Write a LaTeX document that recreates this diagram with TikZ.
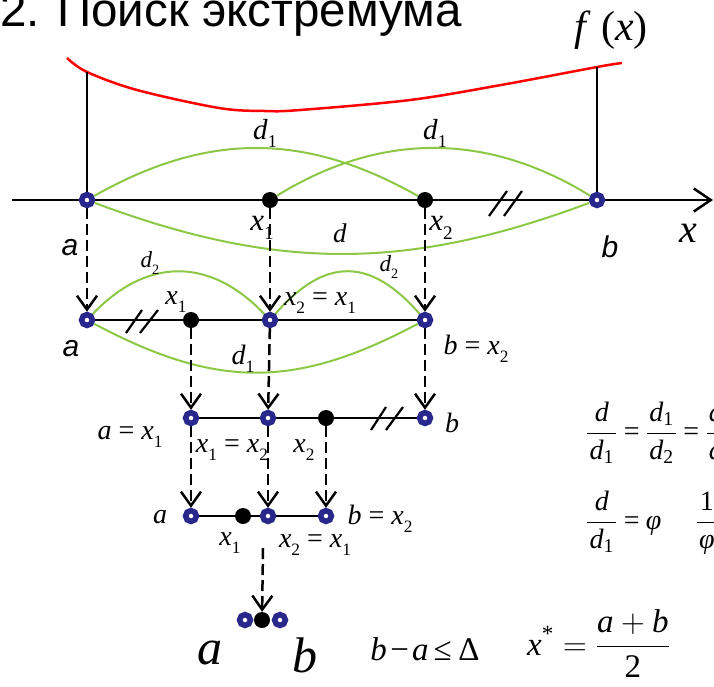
\RequirePackage{fix-cm}
\documentclass[tikz,border=0pt]{standalone}
\usepackage{amsmath}
\usepackage{graphicx}
\usepackage{fontspec}
\newfontfamily\sansf{Liberation Sans}
\newfontfamily\tnr{Liberation Serif}
\usetikzlibrary{arrows.meta,backgrounds}
\definecolor{ptblue}{RGB}{40,40,140}
\definecolor{arcgreen}{RGB}{140,200,70}
\newcommand\fs[1]{\fontsize{#1}{#1}\selectfont}
\newcommand\sbs[1]{\raisebox{-0.28em}{\scalebox{0.62}{#1}}}
\newcommand\mi[1]{\text{\itshape #1}}
\newcommand\mr[1]{\text{#1}}
\newcommand\teq{\mathrel{\text{=}}}
\newcommand\pf[2]{\frac{\mkern1.5mu#1\mkern1.5mu}{\mkern1.5mu#2\mkern1.5mu}}
\begin{document}
\begin{tikzpicture}[x=1pt,y=-1pt,
  bpt/.style={circle, draw=ptblue, fill=white, line width=5.6pt, minimum size=10.8pt, inner sep=0pt},
  kpt/.style={circle, fill=black, minimum size=16pt, inner sep=0pt},
  darr/.style={line width=2.5pt, dash pattern=on 11pt off 5pt, -{Straight Barb[length=14pt,width=20pt]}},
  axisln/.style={line width=2.5pt, -{Straight Barb[length=17pt,width=23pt]}},
  rowln/.style={line width=2pt},
  hashln/.style={line width=2.2pt},
  arcln/.style={arcgreen, line width=2pt},
  lab/.style={inner sep=0pt, font=\tnr\fs{#1}},
  slab/.style={inner sep=0pt, font=\sansf\itshape\fs{30}}
]
\useasboundingbox (0,0) rectangle (714,686);

% title
\node[anchor=base west, inner sep=0pt, font=\sansf\fs{47.5}] (title) at (0,26) {2. Поиск экстремума};

% points
\node[bpt] (r1a) at (87,200) {};
\node[kpt] (r1x1) at (270,200) {};
\node[kpt] (r1x2) at (425,200) {};
\node[bpt] (r1b) at (597,200) {};
\node[bpt] (r2a) at (87,320) {};
\node[kpt] (r2x1) at (191,320) {};
\node[bpt] (r2x2) at (270,320) {};
\node[bpt] (r2b) at (425,320) {};
\node[bpt] (r3a) at (191,418) {};
\node[bpt] (r3x1) at (268,418) {};
\node[kpt] (r3x2) at (326,418) {};
\node[bpt] (r3b) at (425,418) {};
\node[bpt] (r4a) at (191,516) {};
\node[kpt] (r4x1) at (243,516) {};
\node[bpt] (r4x2) at (268,516) {};
\node[bpt] (r4b) at (326,516) {};
\node[bpt] (r5a) at (245,620) {};
\node[bpt] (r5b) at (280,620) {};
\node[kpt] (r5x) at (262,620) {};

\coordinate (fa) at (87,72);
\coordinate (fb) at (597,67);
\coordinate (axs) at (12,200);
\coordinate (axe) at (713,200);
\coordinate (r5top) at (263,548);

\begin{scope}[on background layer]
  % f(x)
  \draw[red, line width=2.5pt] plot[smooth, tension=0.55] coordinates
    {(67,58) (87,72) (137,90) (219,108) (265,111) (300,110) (410,100) (501,85) (597,67) (622,63)};
  \draw[line width=2pt] (fa) -- (r1a);
  \draw[line width=2pt] (fb) -- (r1b);
  % axis and row lines
  \draw[axisln] (axs) -- (r1a) -- (r1x1) -- (r1x2) -- (r1b) -- (axe);
  \draw[rowln] (r2a) -- (r2x1) -- (r2x2) -- (r2b);
  \draw[rowln] (r3a) -- (r3x1) -- (r3x2) -- (r3b);
  \draw[rowln] (r4a) -- (r4x1) -- (r4x2) -- (r4b);
  % hash marks
  \draw[hashln] (489,216) -- (507,191) (504,216) -- (522,191);
  \draw[hashln] (126,333) -- (142,310) (140,333) -- (158,310);
  \draw[hashln] (371,430) -- (386,407) (386,430) -- (403,407);
  % green arcs
  \draw[arcln] (r1a) .. controls +(120,-68) and +(-120,-68) .. (r1x2);
  \draw[arcln] (r1x1) .. controls +(110,-68) and +(-110,-68) .. (r1b);
  \draw[arcln] (r1a) .. controls +(190,71) and +(-190,71) .. (r1b);
  \draw[arcln] (r2a) .. controls +(60,-63) and +(-60,-63) .. (r2x2);
  \draw[arcln] (r2x2) .. controls +(55,-63) and +(-55,-63) .. (r2b);
  \draw[arcln] (r2a) .. controls +(130,69) and +(-130,69) .. (r2b);
  % dashed arrows
  \draw[darr] (r1a) -- (r2a);
  \draw[darr] (r1x1) -- (r2x2);
  \draw[darr] (r1x2) -- (r2b);
  \draw[darr] (r2x1) -- (r3a);
  \draw[darr] (r2x2) -- (r3x1);
  \draw[darr] (r2b) -- (r3b);
  \draw[darr] (r3a) -- (r4a);
  \draw[darr] (r3x1) -- (r4x2);
  \draw[darr] (r3x2) -- (r4b);
  \draw[darr] (r5top) -- (r5x);
\end{scope}

% labels row 1
\node[lab=42] (lfx) at (611,30) {\textit{f}\hspace{0.25em}(\textit{x})};
\node[lab=40] (lx) at (688,233) {\textit{x}};
\node[slab] (la1) at (70,248) {a};
\node[slab] (lb1) at (610,247) {b};
\node[lab=29] (ld1a) at (265,133) {\textit{d}\sbs{1}};
\node[lab=29] (ld1b) at (435,133) {\textit{d}\sbs{1}};
\node[lab=27] (ld) at (340,233) {\textit{d}};
\node[lab=31] (lx1) at (262,228) {\textit{x}\sbs{1}};
\node[lab=31] (lx2) at (441,228) {\textit{x}\sbs{2}};
% row 2
\node[lab=23] (ld2a) at (150,263) {\textit{d}\sbs{2}};
\node[lab=23] (ld2b) at (389,267) {\textit{d}\sbs{2}};
\node[lab=28] (l2x1) at (176,302) {\textit{x}\sbs{1}};
\node[lab=28] (l2x2) at (320,303) {\textit{x}\sbs{2} = \textit{x}\sbs{1}};
\node[slab] (la2) at (71,349) {a};
\node[lab=28] (l2b) at (476,349) {\textit{b} = \textit{x}\sbs{2}};
\node[lab=28] (l2d1) at (243,359) {\textit{d}\sbs{1}};
% row 3
\node[lab=28] (l3a) at (130,437) {\textit{a} = \textit{x}\sbs{1}};
\node[lab=28] (l3x1) at (232,450) {\textit{x}\sbs{1} = \textit{x}\sbs{2}};
\node[lab=28] (l3x2) at (304,450) {\textit{x}\sbs{2}};
\node[lab=28] (l3b) at (452,423) {\textit{b}};
% row 4
\node[lab=28] (l4a) at (160,517) {\textit{a}};
\node[lab=28] (l4b) at (380,519) {\textit{b} = \textit{x}\sbs{2}};
\node[lab=28] (l4x1) at (230,543) {\textit{x}\sbs{1}};
\node[lab=28] (l4x2) at (315,545) {\textit{x}\sbs{2} = \textit{x}\sbs{1}};
% bottom
\node[lab=50] (l5a) at (210,653) {\textit{a}};
\node[lab=50] (l5b) at (305,655) {\textit{b}};
\node[anchor=base, inner sep=0pt, font=\tnr\fs{33}] (cond) at (425,660) {\textit{b}\hspace{0.1em}−\hspace{0.1em}\textit{a}\hspace{0.15em}≤\hspace{0.2em}Δ};
\node[anchor=base west, inner sep=0pt, font=\tnr\fs{33}] (xs) at (527,655) {$\displaystyle \mi{x}^{\mr{*}}=\frac{\mi{a}+\mi{b}}{\mr{2}}$};
% right formulas
\node[anchor=base west, inner sep=0pt, font=\tnr\fs{28}] (frm1) at (586,440) {$\thickmuskip=4mu\displaystyle\pf{\mi{d}}{\mi{d}_{\mr{1}}}\teq\pf{\mi{d}_{\mr{1}}}{\mi{d}_{\mr{2}}}\teq\pf{\mi{d}_{\mr{2}}}{\mi{d}_{\mr{3}}}$};
\node[anchor=base west, inner sep=0pt, font=\tnr\fs{28}] (frm2) at (586,529) {$\thickmuskip=4mu\displaystyle\pf{\mi{d}}{\mi{d}_{\mr{1}}}\teq\mi{φ}\mkern22mu\pf{\mr{1}}{\mi{φ}}$};
\end{tikzpicture}
\end{document}
